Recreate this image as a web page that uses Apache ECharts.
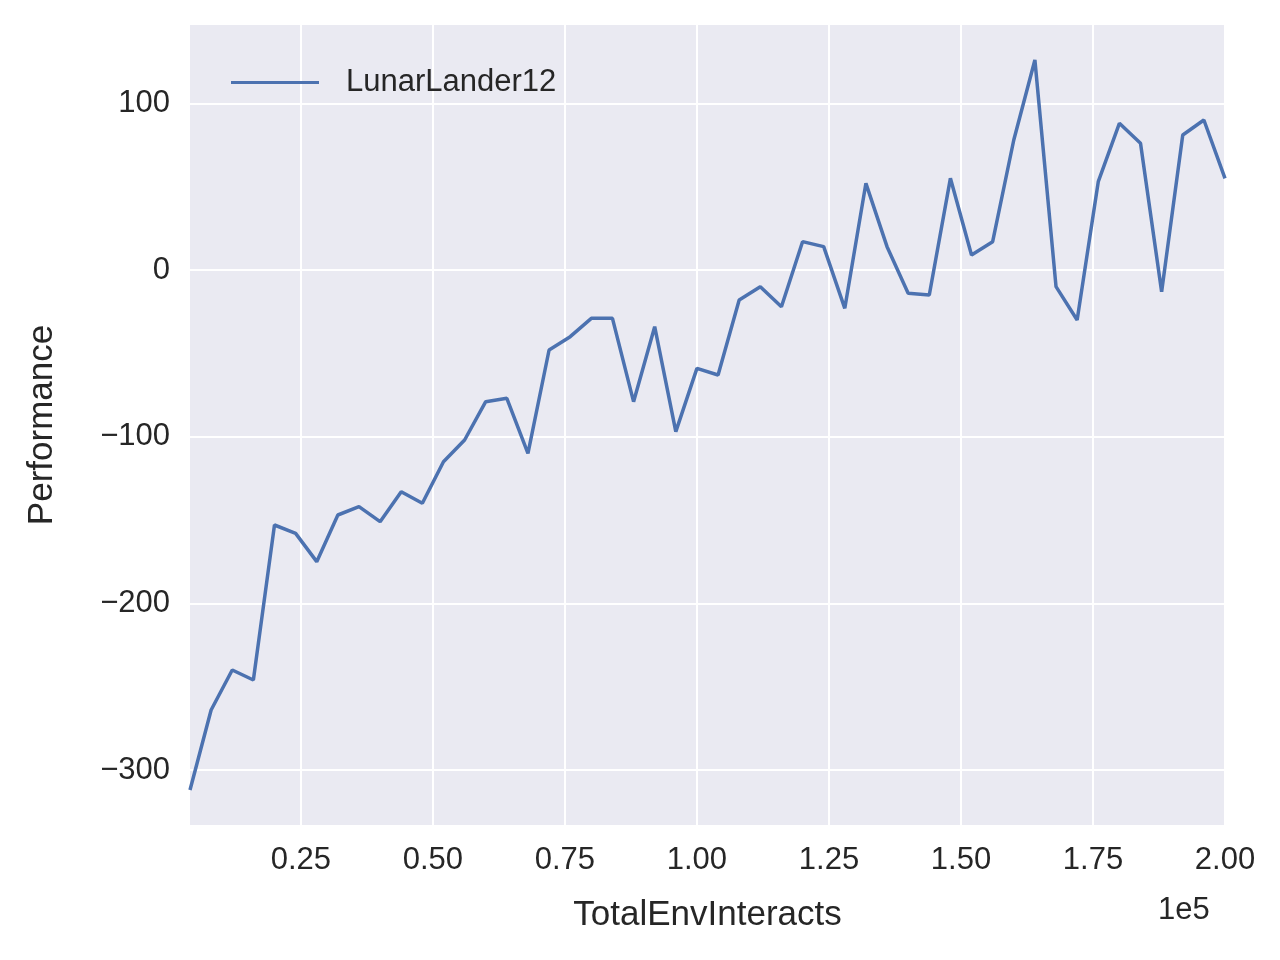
<!DOCTYPE html>
<html><head><meta charset="utf-8">
<script src="https://cdn.jsdelivr.net/npm/echarts@6/dist/echarts.min.js"></script>
<style>html,body{margin:0;background:#fff}#c{width:1280px;height:960px}</style>
</head><body><div id="c"></div>
<script>
var steps = [];
for (var s = 4000; s <= 200000; s += 4000) steps.push(s);
var perf = [-312,-264,-240,-246,-153,-158,-175,-147,-142,-151,-133,-140,-115,-102,-79,-77,-110,-48,-40,-29,
  -29,-79,-34,-97,-59,-63,-18,-10,-22,17,14,-23,52,14,-14,-15,55,9,17,78,
  126,-10,-30,53,88,76,-13,81,90,55];
var xTicks = [25000,50000,75000,100000,125000,150000,175000,200000];
var yTicks = [-300,-200,-100,0,100];

var data = steps.map(function(x, i){ return [x, perf[i]]; });
var font = 'Liberation Sans';
var chart = echarts.init(document.getElementById('c'));
chart.setOption({
  animation: false,
  textStyle: {fontFamily: font},
  grid: {left: 190, right: 55, top: 25, bottom: 135, show: true, backgroundColor: '#EAEAF2', borderWidth: 0},
  legend: {left: 226, top: 62, itemWidth: 88, itemHeight: 3, itemGap: 10,
    textStyle: {fontSize: 31, color: '#262626', fontFamily: font, padding: [0, 0, 0, 22]},
    data: [{name: 'LunarLander12', icon: 'rect'}]},
  xAxis: {type: 'value', min: 4000, max: 200000, name: 'TotalEnvInteracts', nameLocation: 'middle', nameGap: 73,
    nameTextStyle: {fontSize: 35, color: '#262626'},
    axisLine: {show: false},
    axisTick: {show: false, customValues: xTicks},
    axisLabel: {customValues: xTicks, fontSize: 31, color: '#262626', margin: 20,
      formatter: function(v){ return (v / 1e5).toFixed(2); }},
    splitLine: {show: true, lineStyle: {color: '#fff', width: 2}}},
  yAxis: {type: 'value', min: -333, max: 147, name: 'Performance', nameLocation: 'middle', nameGap: 130,
    nameTextStyle: {fontSize: 35, color: '#262626'},
    axisLine: {show: false},
    axisTick: {show: false, customValues: yTicks},
    axisLabel: {customValues: yTicks, fontSize: 31, color: '#262626', margin: 20,
      formatter: function(v){ return String(v).replace('-', '\u2212'); }},
    splitLine: {show: true, lineStyle: {color: '#fff', width: 2}}},
  graphic: [{type: 'text', left: 1158, top: 895, style: {text: '1e5', fontSize: 31, fill: '#262626', fontFamily: font}}],
  series: [{name: 'LunarLander12', type: 'line', data: data, showSymbol: false,
    color: '#4C72B0', lineStyle: {width: 3.5, color: '#4C72B0'}}]
});
</script></body></html>
